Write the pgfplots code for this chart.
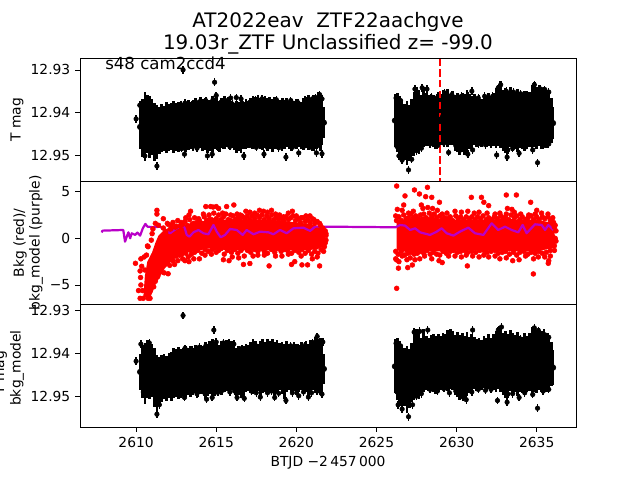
\documentclass[border=0pt]{standalone}
\usepackage{fontspec}
\setmainfont{DejaVu Sans}
\usepackage{pgfplots}
\usepackage{pgfplotstable}
\pgfplotsset{compat=1.18}
\definecolor{mpurple}{RGB}{185,0,200}

% black bands: x, brightest edge, faintest edge of the overlapping error bars
\pgfplotstableread{
x hi lo
2610.25 12.9388 12.9482
2610.40 12.9372 12.9500
2610.55 12.9358 12.9512
2610.70 12.9362 12.9492
2610.85 12.9366 12.9505
2611.00 12.9374 12.9496
2611.15 12.9382 12.9512
2611.30 12.9388 12.9505
2611.45 12.9392 12.9494
2611.60 12.9384 12.9490
2611.75 12.9389 12.9486
2611.90 12.9380 12.9492
2612.05 12.9386 12.9488
2612.20 12.9381 12.9485
2612.35 12.9378 12.9491
2612.50 12.9384 12.9487
2612.65 12.9379 12.9490
2612.80 12.9377 12.9484
2612.95 12.9382 12.9486
2613.10 12.9380 12.9490
2613.25 12.9376 12.9486
2613.40 12.9381 12.9483
2613.55 12.9375 12.9487
2613.70 12.9371 12.9482
2613.85 12.9377 12.9485
2614.00 12.9368 12.9480
2614.15 12.9374 12.9488
2614.30 12.9372 12.9484
2614.45 12.9378 12.9493
2614.60 12.9375 12.9486
2614.75 12.9366 12.9488
2614.90 12.9370 12.9482
2615.05 12.9366 12.9485
2615.20 12.9378 12.9488
2615.35 12.9372 12.9481
2615.50 12.9366 12.9484
2615.65 12.9376 12.9478
2615.80 12.9368 12.9482
2615.95 12.9378 12.9480
2616.10 12.9382 12.9484
2616.25 12.9378 12.9491
2616.40 12.9380 12.9486
2616.55 12.9376 12.9492
2616.70 12.9381 12.9484
2616.85 12.9374 12.9482
2617.00 12.9378 12.9480
2617.15 12.9372 12.9478
2617.30 12.9366 12.9483
2617.45 12.9369 12.9480
2617.60 12.9364 12.9478
2617.75 12.9370 12.9482
2617.90 12.9368 12.9484
2618.05 12.9366 12.9480
2618.20 12.9371 12.9487
2618.35 12.9366 12.9481
2618.50 12.9372 12.9488
2618.65 12.9368 12.9482
2618.80 12.9374 12.9484
2618.95 12.9376 12.9480
2619.10 12.9371 12.9486
2619.25 12.9375 12.9482
2619.40 12.9372 12.9478
2619.55 12.9377 12.9483
2619.70 12.9373 12.9488
2619.85 12.9378 12.9480
2620.00 12.9374 12.9484
2620.15 12.9376 12.9478
2620.30 12.9379 12.9482
2620.45 12.9372 12.9486
2620.60 12.9368 12.9480
2620.75 12.9364 12.9484
2620.90 12.9372 12.9478
2621.05 12.9362 12.9486
2621.20 12.9368 12.9482
2621.35 12.9358 12.9478
2621.50 12.9362 12.9485
2621.60 12.9372 12.9472
2621.72 12.9392 12.9458
}\TopOne
\pgfplotstableread{
x hi lo
2626.15 12.9362 12.9478
2626.30 12.9360 12.9490
2626.45 12.9366 12.9506
2626.60 12.9376 12.9512
2626.75 12.9384 12.9508
2626.90 12.9378 12.9520
2627.05 12.9386 12.9510
2627.20 12.9374 12.9500
2627.35 12.9356 12.9498
2627.50 12.9346 12.9490
2627.65 12.9352 12.9494
2627.80 12.9364 12.9484
2627.95 12.9344 12.9478
2628.10 12.9358 12.9474
2628.25 12.9364 12.9476
2628.40 12.9360 12.9472
2628.55 12.9362 12.9476
2628.70 12.9370 12.9482
2628.85 12.9358 12.9478
2629.00 12.9362 12.9474
2629.15 12.9352 12.9470
2629.30 12.9358 12.9472
2629.45 12.9350 12.9476
2629.60 12.9360 12.9472
2629.75 12.9353 12.9474
2629.90 12.9362 12.9486
2630.05 12.9358 12.9490
2630.20 12.9364 12.9498
2630.35 12.9358 12.9490
2630.50 12.9362 12.9496
2630.65 12.9352 12.9488
2630.80 12.9362 12.9484
2630.95 12.9366 12.9480
2631.10 12.9362 12.9474
2631.25 12.9368 12.9478
2631.40 12.9364 12.9472
2631.55 12.9372 12.9476
2631.70 12.9362 12.9472
2631.85 12.9366 12.9478
2632.00 12.9358 12.9474
2632.15 12.9366 12.9470
2632.30 12.9360 12.9476
2632.45 12.9348 12.9480
2632.60 12.9340 12.9474
2632.75 12.9332 12.9480
2632.90 12.9352 12.9486
2633.05 12.9348 12.9492
2633.20 12.9354 12.9484
2633.35 12.9346 12.9478
2633.50 12.9352 12.9488
2633.65 12.9358 12.9482
2633.80 12.9350 12.9490
2633.95 12.9358 12.9480
2634.10 12.9362 12.9484
2634.25 12.9354 12.9488
2634.40 12.9362 12.9482
2634.55 12.9356 12.9478
2634.70 12.9340 12.9486
2634.85 12.9334 12.9478
2635.00 12.9344 12.9484
2635.15 12.9340 12.9476
2635.30 12.9348 12.9482
2635.45 12.9344 12.9476
2635.60 12.9352 12.9480
2635.75 12.9356 12.9472
2635.90 12.9372 12.9468
2636.02 12.9392 12.9460
}\TopTwo
\pgfplotstableread{
x hi lo
2610.25 12.9405 12.9482
2610.40 12.9385 12.9500
2610.55 12.9380 12.9515
2610.70 12.9373 12.9500
2610.85 12.9378 12.9505
2611.00 12.9382 12.9498
2611.15 12.9392 12.9522
2611.30 12.9408 12.9528
2611.45 12.9412 12.9515
2611.60 12.9408 12.9510
2611.75 12.9404 12.9502
2611.90 12.9410 12.9508
2612.05 12.9402 12.9500
2612.20 12.9400 12.9506
2612.35 12.9392 12.9502
2612.50 12.9394 12.9498
2612.65 12.9390 12.9504
2612.80 12.9394 12.9500
2612.95 12.9392 12.9496
2613.10 12.9388 12.9498
2613.25 12.9392 12.9492
2613.40 12.9386 12.9498
2613.55 12.9390 12.9494
2613.70 12.9385 12.9490
2613.85 12.9388 12.9498
2614.00 12.9384 12.9492
2614.15 12.9388 12.9488
2614.30 12.9378 12.9504
2614.45 12.9382 12.9496
2614.60 12.9376 12.9492
2614.75 12.9372 12.9502
2614.90 12.9385 12.9496
2615.05 12.9378 12.9490
2615.20 12.9384 12.9488
2615.35 12.9374 12.9493
2615.50 12.9380 12.9488
2615.65 12.9374 12.9484
2615.80 12.9380 12.9488
2615.95 12.9375 12.9482
2616.10 12.9386 12.9486
2616.25 12.9392 12.9498
2616.40 12.9388 12.9494
2616.55 12.9392 12.9500
2616.70 12.9387 12.9498
2616.85 12.9382 12.9488
2617.00 12.9386 12.9484
2617.15 12.9378 12.9488
2617.30 12.9372 12.9492
2617.45 12.9376 12.9488
2617.60 12.9382 12.9484
2617.75 12.9374 12.9498
2617.90 12.9372 12.9490
2618.05 12.9378 12.9486
2618.20 12.9370 12.9492
2618.35 12.9376 12.9486
2618.50 12.9372 12.9490
2618.65 12.9378 12.9498
2618.80 12.9374 12.9490
2618.95 12.9380 12.9482
2619.10 12.9376 12.9490
2619.25 12.9382 12.9502
2619.40 12.9376 12.9486
2619.55 12.9382 12.9482
2619.70 12.9386 12.9490
2619.85 12.9378 12.9484
2620.00 12.9382 12.9494
2620.15 12.9386 12.9488
2620.30 12.9378 12.9482
2620.45 12.9384 12.9492
2620.60 12.9374 12.9486
2620.75 12.9382 12.9496
2620.90 12.9372 12.9488
2621.05 12.9378 12.9482
2621.20 12.9366 12.9490
2621.35 12.9372 12.9486
2621.50 12.9368 12.9492
2621.60 12.9380 12.9482
2621.72 12.9405 12.9468
}\BotOne
\pgfplotstableread{
x hi lo
2626.15 12.9372 12.9490
2626.30 12.9368 12.9505
2626.45 12.9375 12.9520
2626.60 12.9386 12.9528
2626.75 12.9392 12.9520
2626.90 12.9386 12.9535
2627.05 12.9394 12.9525
2627.20 12.9380 12.9510
2627.35 12.9362 12.9504
2627.50 12.9346 12.9498
2627.65 12.9352 12.9504
2627.80 12.9368 12.9492
2627.95 12.9346 12.9486
2628.10 12.9362 12.9482
2628.25 12.9368 12.9484
2628.40 12.9362 12.9480
2628.55 12.9358 12.9486
2628.70 12.9364 12.9490
2628.85 12.9358 12.9486
2629.00 12.9362 12.9482
2629.15 12.9356 12.9478
2629.30 12.9360 12.9482
2629.45 12.9350 12.9484
2629.60 12.9346 12.9480
2629.75 12.9352 12.9482
2629.90 12.9362 12.9494
2630.05 12.9354 12.9498
2630.20 12.9362 12.9506
2630.35 12.9358 12.9500
2630.50 12.9364 12.9504
2630.65 12.9354 12.9496
2630.80 12.9366 12.9490
2630.95 12.9360 12.9486
2631.10 12.9366 12.9480
2631.25 12.9372 12.9484
2631.40 12.9368 12.9478
2631.55 12.9374 12.9482
2631.70 12.9364 12.9478
2631.85 12.9368 12.9484
2632.00 12.9358 12.9480
2632.15 12.9368 12.9476
2632.30 12.9360 12.9482
2632.45 12.9352 12.9486
2632.60 12.9344 12.9480
2632.75 12.9340 12.9486
2632.90 12.9358 12.9494
2633.05 12.9352 12.9500
2633.20 12.9358 12.9490
2633.35 12.9350 12.9484
2633.50 12.9356 12.9494
2633.65 12.9362 12.9488
2633.80 12.9354 12.9496
2633.95 12.9362 12.9486
2634.10 12.9366 12.9490
2634.25 12.9358 12.9494
2634.40 12.9364 12.9488
2634.55 12.9358 12.9484
2634.70 12.9344 12.9492
2634.85 12.9342 12.9486
2635.00 12.9350 12.9490
2635.15 12.9346 12.9482
2635.30 12.9352 12.9488
2635.45 12.9348 12.9482
2635.60 12.9356 12.9486
2635.75 12.9362 12.9478
2635.90 12.9378 12.9474
2636.02 12.9396 12.9470
}\BotTwo

% single points standing clear of the bands
\pgfplotstableread{
x y
2610.00 12.9415
2610.42 12.9468
2610.50 12.9491
2610.55 12.9502
2610.23 12.9383
2612.93 12.9300
2614.90 12.9329
2615.00 12.9360
2611.30 12.9526
2613.02 12.9498
2614.45 12.9502
2614.75 12.9498
2615.90 12.9366
2616.25 12.9365
2616.55 12.9368
2616.72 12.9502
2617.98 12.9498
2619.35 12.9505
2620.15 12.9495
2621.25 12.9495
2621.60 12.9497
2621.20 12.9365
2621.45 12.9358
2621.60 12.9368
2621.00 12.9368
2626.40 12.9502
2626.60 12.9512
2627.00 12.9535
2627.20 12.9510
2627.40 12.9345
2627.85 12.9342
2628.15 12.9345
2629.50 12.9494
2630.55 12.9492
2630.70 12.9498
2631.00 12.9488
2630.95 12.9350
2632.75 12.9335
2632.60 12.9342
2632.50 12.9500
2633.20 12.9488
2633.15 12.9505
2633.90 12.9496
2634.75 12.9488
2635.05 12.9518
2634.85 12.9335
2635.25 12.9345
}\TopOut
\pgfplotstableread{
x y
2610.00 12.9418
2610.42 12.9468
2610.30 12.9378
2610.45 12.9490
2610.82 12.9375
2610.58 12.9481
2611.30 12.9542
2611.45 12.9520
2612.93 12.9311
2613.02 12.9503
2614.40 12.9507
2614.75 12.9503
2614.85 12.9345
2615.00 12.9373
2615.45 12.9375
2615.80 12.9376
2616.10 12.9378
2616.30 12.9503
2616.75 12.9505
2617.75 12.9502
2618.65 12.9503
2619.35 12.9510
2620.15 12.9499
2620.75 12.9502
2621.00 12.9374
2621.30 12.9360
2621.60 12.9495
2621.65 12.9373
2626.35 12.9520
2626.60 12.9530
2627.00 12.9548
2627.25 12.9520
2627.35 12.9350
2627.70 12.9348
2628.20 12.9345
2629.55 12.9492
2630.40 12.9502
2630.60 12.9508
2630.95 12.9490
2631.00 12.9345
2632.60 12.9345
2632.80 12.9338
2632.55 12.9510
2633.20 12.9495
2633.15 12.9514
2633.90 12.9503
2634.75 12.9496
2635.05 12.9528
2634.85 12.9340
2635.10 12.9346
}\BotOut
% points along the rims of the bands (upper panel; lower panel lies about 0.0010 fainter)
\pgfplotstableread{
x y
2612.60 12.9385
2613.05 12.9378
2613.50 12.9382
2613.95 12.9375
2614.35 12.9372
2614.80 12.9370
2615.30 12.9376
2615.70 12.9372
2616.00 12.9380
2616.60 12.9378
2617.10 12.9376
2617.45 12.9371
2617.85 12.9368
2618.30 12.9372
2618.75 12.9370
2619.20 12.9376
2619.65 12.9372
2620.10 12.9377
2620.55 12.9371
2620.85 12.9374
2612.40 12.9482
2612.85 12.9485
2613.35 12.9478
2613.80 12.9484
2614.20 12.9480
2615.10 12.9481
2615.40 12.9476
2615.85 12.9480
2616.15 12.9478
2617.20 12.9478
2617.50 12.9482
2618.20 12.9482
2618.45 12.9478
2618.90 12.9483
2619.75 12.9482
2620.45 12.9480
2620.95 12.9482
2621.30 12.9478
2626.22 12.9366
2626.50 12.9372
2627.55 12.9352
2628.45 12.9364
2628.75 12.9366
2629.25 12.9354
2629.70 12.9358
2630.30 12.9362
2630.75 12.9362
2631.35 12.9366
2631.75 12.9362
2632.25 12.9362
2633.10 12.9350
2633.55 12.9352
2634.00 12.9356
2634.40 12.9358
2635.50 12.9346
2635.75 12.9352
2626.28 12.9480
2627.50 12.9490
2627.80 12.9484
2628.35 12.9474
2628.80 12.9478
2629.20 12.9472
2629.95 12.9478
2630.25 12.9488
2631.35 12.9474
2631.80 12.9476
2632.15 12.9474
2633.50 12.9484
2634.25 12.9482
2635.40 12.9478
2635.75 12.9474
}\Rim

\pgfplotsset{
  panel/.style={
    scale only axis, width=4.96in, height=1.23in,
    xmin=2606.5, xmax=2637.45,
    axis on top, axis line style={line width=0.58pt},
    tick style={line width=0.58pt, black},
    tick align=outside, major tick length=3.5pt,
    xtick pos=bottom, ytick pos=left,
    tick label style={font=\fontsize{10}{12}\selectfont},
    clip=true,
  },
  band/.style={only marks, mark=none,
    error bars/.cd, y dir=both, y explicit,
    error bar style={line width=1.95pt, black}, error mark=none},
  outl/.style={only marks, mark=*, mark size=1.65pt, black,
    error bars/.cd, y dir=both, y fixed=0.0009,
    error bar style={line width=1.05pt, black}, error mark=none},
}
\newcommand{\bandplot}[1]{\addplot[band] table[x=x, y expr=(\thisrow{hi}+\thisrow{lo})/2, y error expr=(\thisrow{lo}-\thisrow{hi})/2+0.0004] {#1};}

\begin{document}
\begin{tikzpicture}
\path[use as bounding box] (0in,0in) rectangle (6.4in,4.8in);

\begin{axis}[panel, at={(0.80in,2.99in)}, anchor=south west,
  y dir=reverse, ymin=12.9272, ymax=12.9561,
  xtick=\empty, ytick={12.93,12.94,12.95}, yticklabels={12.93,12.94,12.95}]
\bandplot{\TopOne}
\bandplot{\TopTwo}
\addplot[outl] table[x=x,y=y] {\TopOut};
\addplot[outl] table[x=x,y=y] {\Rim};
\addplot[red, line width=1.5pt, dash pattern=on 5.5pt off 2.4pt, forget plot] coordinates {(2628.96,12.9272) (2628.96,12.9561)};
\end{axis}

\begin{axis}[panel, at={(0.80in,1.76in)}, anchor=south west,
  ymin=-7.04, ymax=6.14,
  xtick=\empty, ytick={-5,0,5}, yticklabels={−5,0,5}]
% saturated core of the red points
\addplot[fill=red, draw=none, forget plot] coordinates {(2610.45,-6.3)(2610.55,-4)(2610.7,-2.5)(2611,-1.5)(2611.2,-0.5)(2611.4,0.3)(2611.7,0.8)(2612,1.1)(2613,1.4)(2614,1.8)(2615,2)(2616,2)(2617,2)(2618,2)(2619,1.9)(2620,1.7)(2621,1.5)(2621.75,1)(2621.8,-0.7)(2621.3,-1.2)(2620,-1.3)(2618,-1.3)(2616,-1.3)(2614.5,-1.1)(2613,-1.6)(2612.3,-2.3)(2611.8,-3.2)(2611.2,-5)(2610.9,-6.3)} -- cycle;
\addplot[fill=red, draw=none, forget plot] coordinates {(2626.25,1.9)(2627,2.1)(2628,2.3)(2629,2.1)(2630,2)(2631,2)(2632,2)(2633,2.1)(2634,2)(2635,2)(2636.1,1.6)(2636.15,-1)(2635,-1.4)(2634,-1.4)(2633,-1.4)(2632,-1.3)(2631,-1.3)(2630,-1.3)(2629,-1.4)(2628,-1.4)(2627,-1.5)(2626.25,-1.3)} -- cycle;
\addplot[only marks, mark=*, mark size=1.75pt, red, mark options={draw=red, fill=red}] coordinates {
(2609.96,-2.68)(2610.71,-0.82)(2610.25,-6.43)(2610.45,-6.43)(2610.75,-6.43)(2610.87,-6.43)(2610.15,-5.6)(2610.3,-5)(2610.28,-4.2)(2610.25,-3.5)(2610.35,-3)(2610.3,-2.2)(2610.5,-2)(2610.65,-1.8)(2610.55,-3.4)(2610.4,-5.6)(2610.9,-5.6)(2611.1,-5.2)(2611.2,-4.6)(2611.35,-4.1)(2611.5,-3.6)(2611.25,-3.2)(2611.75,-3.7)(2612,-3.8)(2612.1,-2.9)(2612.4,-2.8)
(2610.75,-0.9)(2610.95,-0.2)(2611,0.5)(2611.05,1)(2611.2,1.6)(2611.3,2.6)(2611.3,3)(2611.4,1.4)(2611.7,2.1)(2611.95,1.6)(2612.2,1.4)(2612.5,1.3)(2612.8,1.7)(2613.1,2.2)(2613.3,2.5)(2613.4,2.9)(2613.6,1.6)(2613.9,2.1)(2614.2,2.6)(2614.55,2)(2614.9,1.9)
(2614.35,3.4)(2614.65,3.4)(2614.8,3.35)(2615,3.4)(2615.15,3.2)(2615.4,2.7)(2615.65,3.4)(2615.9,2.5)(2616.1,3.57)(2616.3,2.6)(2616.5,2.5)(2616.6,2.4)(2616.85,2.9)(2617.1,2.8)(2617.4,2.7)(2617.7,3)(2617.95,2.9)(2618.2,2.8)(2618.45,3)(2618.7,2.6)(2618.95,2.5)(2619.2,2.3)(2619.5,2.7)(2619.75,2.9)(2620,2.4)(2620.3,2.2)(2620.6,2.4)(2620.85,2.4)(2621.1,2)(2621.45,1.6)
(2612.6,-2.4)(2612.9,-2.2)(2613.05,-2.4)(2613.3,-2.5)(2613.6,-2.2)(2613.95,-2.2)(2614.3,-1.8)(2614.7,-1.7)(2615,-1.5)(2615.45,-2.3)(2615.8,-2.4)(2616,-2)(2616.4,-2.1)(2616.7,-2.8)(2617.1,-2.7)(2617.3,-1.9)(2617.6,-1.8)(2618,-1.8)(2618.3,-2.96)(2618.7,-1.9)(2619.1,-1.9)(2619.5,-1.7)(2619.7,-2.8)(2619.9,-2.5)(2620.3,-1.9)(2620.35,-2.85)(2620.7,-2.85)(2621,-2.2)(2621.3,-2)(2621.45,-2.96)(2621.7,-1.4)(2621.8,-0.5)(2621.85,0.3)
(2626.26,5.6)(2627.37,5.18)(2628.18,5.46)(2626.78,4.54)(2627.68,4.75)(2628.07,4.46)(2628.45,4.39)(2628.93,3.86)(2630.92,4.39)(2631.55,4.39)(2633.1,4.64)(2633.73,4.64)(2634.62,3.86)(2626.26,-5.36)(2630.67,-2.96)(2634.79,-3.82)(2626.37,-3.2)(2626.95,-3.14)(2627.24,-2.86)(2626.26,-2.32)(2635.72,-2.68)(2635.75,-2.4)
(2631.7,3.86)(2632,3.5)(2633.17,3.2)(2633.45,3.1)(2635,3)(2627.8,3.57)(2626.7,3.57)(2626.3,3.1)(2626.2,2.4)(2626.6,3)(2627,2.7)(2627.3,2.9)(2627.9,3.2)(2628.2,3.3)(2628.5,3.2)(2628.8,3)(2629.1,2.6)(2629.4,2.7)(2629.9,2.9)(2630.3,2.8)(2630.7,2.9)(2631.1,2.7)(2631.4,2.8)(2631.9,2.7)(2632.4,2.6)(2632.7,2.7)(2633.1,2.6)(2633.6,2.8)(2634,2.6)(2634.5,2.5)(2634.9,2.6)(2635.3,2.7)(2635.7,2.6)(2636,2.2)
(2626.2,-2.2)(2626.4,-2.5)(2626.6,-1.9)(2626.9,-2.3)(2627.1,-2.1)(2627.4,-2.3)(2627.7,-2.2)(2628,-1.9)(2628.45,-2.2)(2628.9,-2.4)(2629.1,-2.6)(2629.5,-1.9)(2629.9,-1.9)(2630.3,-2)(2630.6,-1.8)(2631,-1.9)(2631.4,-2)(2631.7,-1.8)(2632,-2)(2632.4,-1.9)(2632.7,-2.2)(2633.1,-2.1)(2633.5,-2.4)(2633.9,-2.3)(2634.3,-1.9)(2634.8,-2.2)(2635.1,-2)(2635.5,-2)(2635.85,-1.9)(2636.1,-1.3)(2636.15,0)(2636.1,1.2)
(2611.7,1.1)(2611.85,0.7)(2612,1.5)(2612.15,1)(2612.3,1.7)(2612.45,1.2)(2612.6,1.9)(2612.75,1.3)(2612.9,1.5)(2613.05,1.8)(2613.2,1.4)(2613.35,2)(2613.5,1.5)(2613.65,2.2)(2613.8,1.7)(2613.95,1.9)(2614.1,1.6)(2614.25,2.3)(2614.4,1.9)(2614.55,2.5)(2614.7,2)(2614.85,2.7)(2615,2.1)(2615.15,2.5)(2615.3,2)(2615.45,2.3)(2615.6,2.6)(2615.75,2)(2615.9,1.9)(2616.05,2.4)(2616.2,2)(2616.35,2.2)(2616.5,1.9)(2616.65,2.3)(2616.8,2.1)(2616.95,2.4)(2617.1,2)(2617.25,2.4)(2617.4,2.1)(2617.55,2.5)(2617.7,2.2)(2617.85,2.5)(2618,2)(2618.15,2.4)(2618.3,2.1)(2618.45,2.5)(2618.6,2)(2618.75,2.3)(2618.9,2)(2619.05,2.2)(2619.2,1.9)(2619.35,2.3)(2619.5,2)(2619.65,2.2)(2619.8,2.4)(2619.95,1.9)(2620.1,2.1)(2620.25,1.7)(2620.4,2.2)(2620.55,1.8)(2620.7,2)(2620.85,1.7)(2621,2.1)(2621.15,1.6)(2621.3,1.8)(2621.5,1.4)(2621.65,1.1)(2621.8,0.8)
(2611.9,-2.6)(2612.1,-2.2)(2612.3,-2.4)(2612.5,-1.9)(2612.7,-1.8)(2612.85,-1.7)(2613.1,-1.6)(2613.25,-2)(2613.45,-1.7)(2613.65,-1.5)(2613.85,-1.3)(2614.1,-1.6)(2614.3,-1.2)(2614.5,-1.4)(2614.75,-1.2)(2614.95,-1)(2615.15,-1.3)(2615.3,-1.1)(2615.5,-1.7)(2615.7,-1.3)(2615.95,-1.5)(2616.15,-1.2)(2616.35,-1.6)(2616.55,-1.3)(2616.75,-1.9)(2616.95,-1.3)(2617.15,-1.5)(2617.4,-1.2)(2617.6,-1.4)(2617.8,-1.1)(2618,-1.4)(2618.2,-1.6)(2618.45,-1.2)(2618.65,-1.5)(2618.85,-1.1)(2619.05,-1.4)(2619.25,-1.2)(2619.45,-1.3)(2619.7,-1.6)(2619.9,-1.3)(2620.15,-1.5)(2620.35,-1.2)(2620.55,-1.6)(2620.75,-1.3)(2620.95,-1.7)(2621.15,-1.4)(2621.35,-1.6)(2621.55,-1.2)(2621.75,-0.9)(2621.85,-0.2)(2621.85,0.5)
(2626.25,1.9)(2626.4,2.3)(2626.55,1.9)(2626.7,2.5)(2626.85,2.1)(2627,2.2)(2627.15,2.6)(2627.3,2.2)(2627.45,2.4)(2627.6,2.1)(2627.75,2.5)(2627.95,2.6)(2628.1,2.2)(2628.3,2.7)(2628.45,2.3)(2628.6,2.6)(2628.75,2.2)(2628.95,2.4)(2629.1,2)(2629.25,2.2)(2629.45,2.1)(2629.6,2.3)(2629.75,1.9)(2629.95,2.4)(2630.1,2.1)(2630.25,2.3)(2630.45,2)(2630.6,2.3)(2630.8,2.1)(2630.95,2.3)(2631.15,2)(2631.3,2.3)(2631.5,2.1)(2631.65,2.4)(2631.85,2)(2632,2.2)(2632.2,2)(2632.35,2.3)(2632.55,2.1)(2632.75,2.4)(2632.9,2.1)(2633.05,2.3)(2633.25,2)(2633.4,2.5)(2633.6,2.2)(2633.75,2.4)(2633.95,2)(2634.1,2.3)(2634.3,2)(2634.45,2.2)(2634.65,2.4)(2634.8,2)(2635,2.3)(2635.15,2)(2635.35,2.3)(2635.5,2.1)(2635.7,2.3)(2635.85,1.9)(2636.05,1.7)(2636.15,1.4)(2636.2,0.8)
(2626.2,-1.4)(2626.35,-1.7)(2626.55,-1.4)(2626.75,-1.8)(2626.95,-1.6)(2627.15,-1.5)(2627.35,-1.7)(2627.55,-1.6)(2627.75,-1.4)(2627.95,-1.6)(2628.15,-1.3)(2628.35,-1.7)(2628.55,-1.5)(2628.75,-1.7)(2628.95,-1.8)(2629.15,-1.4)(2629.35,-1.6)(2629.6,-1.4)(2629.8,-1.3)(2630.05,-1.5)(2630.25,-1.4)(2630.5,-1.3)(2630.7,-1.5)(2630.95,-1.4)(2631.2,-1.5)(2631.45,-1.3)(2631.7,-1.3)(2631.9,-1.5)(2632.15,-1.4)(2632.4,-1.3)(2632.6,-1.6)(2632.85,-1.5)(2633.05,-1.4)(2633.3,-1.7)(2633.55,-1.5)(2633.75,-1.8)(2633.95,-1.5)(2634.2,-1.4)(2634.45,-1.7)(2634.65,-1.5)(2634.9,-1.6)(2635.15,-1.4)(2635.35,-1.6)(2635.6,-1.5)(2635.85,-1.3)(2636.1,-0.8)(2636.2,-0.3)
};
\addplot[mpurple, line width=1.6pt, line join=round] coordinates {
(2607.86,0.62)(2607.9,0.82)(2609.2,0.89)(2609.31,-0.36)(2609.42,0.18)(2609.52,0.64)(2609.63,0)(2609.73,0.54)(2609.94,0.36)(2610.08,0.61)(2610.25,0.29)(2610.42,1.07)(2610.58,1.54)(2610.71,1.25)(2611.08,1.18)(2611.5,1.25)(2611.81,0.89)(2612.12,0.54)(2612.54,1.07)(2612.99,1.36)(2613.16,0.36)(2613.33,0.18)(2613.58,0.64)(2613.89,0.89)(2614.2,0.54)(2614.51,0.43)(2614.83,1.43)(2615.03,0.71)(2615.28,0.11)(2615.55,0.36)(2615.87,1)(2616.28,0.89)(2616.65,0.36)(2616.9,0.89)(2617.32,0.43)(2617.74,0.71)(2618.26,0.64)(2618.57,0.43)(2618.98,0.89)(2619.4,0.54)(2619.82,1.07)(2620.44,1.14)(2620.86,0.79)(2621.17,1.25)(2621.69,1.25)(2626.2,1.18)(2626.47,1.43)(2626.78,1.36)(2627.1,0.89)(2627.41,1.07)(2627.72,0.64)(2628.34,0.36)(2628.76,0.71)(2629.07,1.07)(2629.38,0.54)(2629.8,0.29)(2630.21,0.71)(2630.73,1.14)(2631.15,0.54)(2631.67,0.36)(2632.19,1.61)(2632.6,0.89)(2633.02,1.25)(2633.44,0.89)(2633.85,0.64)(2634.12,1.43)(2634.37,0.54)(2634.89,1.5)(2635.31,1.43)(2635.52,0.89)(2635.72,1.43)(2636.04,0.89)};
\end{axis}

\begin{axis}[panel, at={(0.80in,0.53in)}, anchor=south west,
  y dir=reverse, ymin=12.9284, ymax=12.9572,
  xtick={2610,2615,2620,2625,2630,2635}, xticklabels={2610,2615,2620,2625,2630,2635},
  ytick={12.93,12.94,12.95}, yticklabels={12.93,12.94,12.95}]
\bandplot{\BotOne}
\bandplot{\BotTwo}
\addplot[outl] table[x=x,y=y] {\BotOut};
\addplot[outl] table[x=x,y expr=\thisrow{y}+0.001] {\Rim};
\end{axis}

\node[font=\fontsize{14.4}{17}\selectfont] at (3.28in,4.58in) {AT2022eav\ \ ZTF22aachgve};
\node[font=\fontsize{14.4}{17}\selectfont] at (3.28in,4.36in) {19.03r\_ZTF Unclassified z= -99.0};
\node[font=\fontsize{12}{14}\selectfont, anchor=base west, inner sep=0pt] at (1.05in,4.10in) {s48 cam2ccd4};
\node[font=\fontsize{10}{12}\selectfont] at (3.28in,0.17in) {BTJD −2\,457\,000};
\node[font=\fontsize{10}{12}\selectfont, rotate=90] at (0.17in,3.60in) {T mag};
\node[font=\fontsize{10}{12}\selectfont, rotate=90] at (0.20in,2.37in) {Bkg (red)/};
\node[font=\fontsize{10}{12}\selectfont, rotate=90] at (0.36in,2.37in) {bkg\_model (purple)};
\node[font=\fontsize{10}{12}\selectfont, rotate=90] at (0.005in,1.07in) {T mag};
\node[font=\fontsize{10}{12}\selectfont, rotate=90] at (0.17in,1.12in) {bkg\_model};
\end{tikzpicture}
\end{document}
